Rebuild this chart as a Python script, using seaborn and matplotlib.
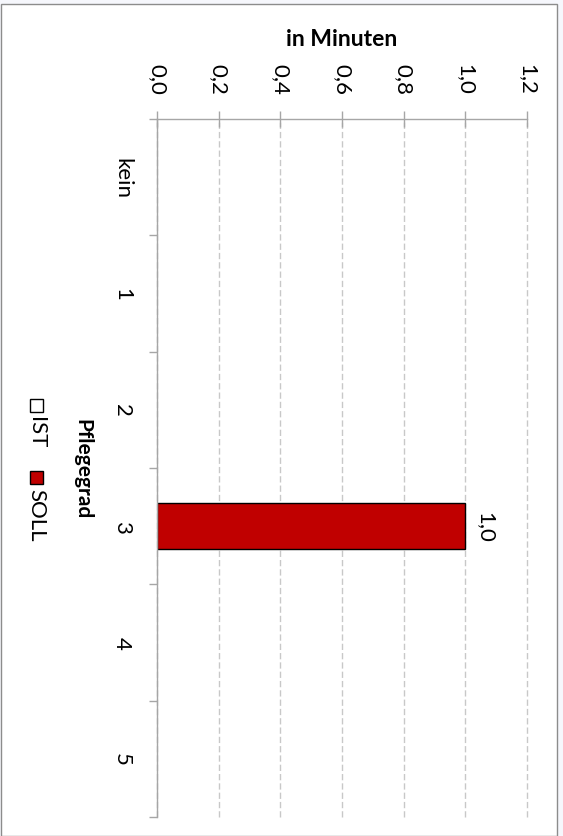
import numpy as np
import pandas as pd
import seaborn as sns
import matplotlib.pyplot as plt
from matplotlib.patches import Rectangle
from matplotlib.ticker import FuncFormatter

# Daten
kategorien = ["kein", "1", "2", "3", "4", "5"]
ist = [0.0, 0.0, 0.0, 0.0, 0.0, 0.0]
soll = [0.0, 0.0, 0.0, 1.0, 0.0, 0.0]
serien = ["IST", "SOLL"]
farben = {"IST": "white", "SOLL": "#C00000"}

df = pd.DataFrame({
    "Pflegegrad": kategorien * 2,
    "Minuten": ist + soll,
    "Serie": ["IST"] * len(kategorien) + ["SOLL"] * len(kategorien),
})

sns.set_theme(style="white")
plt.rcParams["font.family"] = ["Lato", "DejaVu Sans"]
plt.rcParams["text.color"] = "black"
plt.rcParams["axes.labelcolor"] = "black"

W, H = 563, 837
fig = plt.figure(figsize=(W / 100, H / 100), dpi=100, facecolor="#F6F7FC")
# weisser Rahmen
fig.patches.append(Rectangle((0.5 / W, 0), 556 / W, (H - 13) / H + 0.01,
                             transform=fig.transFigure, facecolor="white",
                             edgecolor="#8C8C8C", linewidth=1, zorder=-10))

ax = fig.add_axes([157 / W, (H - 818) / H, 370 / W, 698 / H])
ax.set_facecolor("none")

sns.barplot(data=df, y="Pflegegrad", x="Minuten", hue="Serie", order=kategorien,
            hue_order=serien, palette=farben, saturation=1, dodge=False, width=0.4,
            edgecolor="black", linewidth=1, legend=False, orient="h", ax=ax)

# Null-Balken ausblenden
for p in ax.patches:
    if p.get_width() == 0:
        p.set_visible(False)

ax.set_xlim(0, 1.2)
ax.set_xticks(np.arange(0, 1.21, 0.2))
ax.xaxis.set_major_formatter(FuncFormatter(lambda v, _: f"{v:.1f}".replace(".", ",")))
ax.xaxis.tick_top()
ax.tick_params(axis="x", direction="inout", length=11.5, width=1, color="#A6A6A6",
               pad=12, labelsize=16, labelrotation=-90, labelcolor="black")

ax.set_yticks(np.arange(-0.5, len(kategorien), 1), minor=True)
ax.tick_params(axis="y", which="major", length=0, pad=18, labelsize=16,
               labelrotation=-90, labelcolor="black")
ax.tick_params(axis="y", which="minor", left=True, length=6, width=1, color="#A6A6A6")
for lab in ax.get_yticklabels():
    lab.set_va("center")

ax.xaxis.grid(True, linestyle=(0, (4.5, 2.2)), color="#C8C8C8", linewidth=1)
for g in ax.xaxis.get_gridlines():
    g.set_clip_on(False)
ax.set_axisbelow(True)

for s in ["right", "bottom"]:
    ax.spines[s].set_visible(False)
for s in ["left", "top"]:
    ax.spines[s].set_color("#A6A6A6")
    ax.spines[s].set_linewidth(1)

# Datenbeschriftung
soll_labels = [f"{v:.1f}".replace(".", ",") if v else "" for v in soll]
ax.bar_label(ax.containers[1], labels=soll_labels, padding=7, rotation=-90,
             fontsize=16, color="black")

ax.set_xlabel("")
ax.set_ylabel("Pflegegrad", rotation=270, fontsize=15, fontweight="bold",
              va="center", color="black")
ax.yaxis.set_label_coords((82 - 157) / 370, 0.5)

fig.text(342 / W, 1 - 40 / H, "in Minuten", ha="center", va="center",
         fontsize=16.5, fontweight="bold", color="black")

# Legende (gedreht)
lx = 36
leg = [("IST", 400), ("SOLL", 472)]
for name, y0 in leg:
    fig.patches.append(Rectangle(((lx - 6.5) / W, 1 - (y0 + 13) / H), 13 / W, 13 / H,
                                 transform=fig.transFigure, facecolor=farben[name],
                                 edgecolor="black", linewidth=1))
    fig.text(lx / W, 1 - (y0 + 17) / H, name, rotation=270, ha="center", va="top",
             fontsize=16, color="black")

fig.savefig("out.png", dpi=100, facecolor=fig.get_facecolor())
